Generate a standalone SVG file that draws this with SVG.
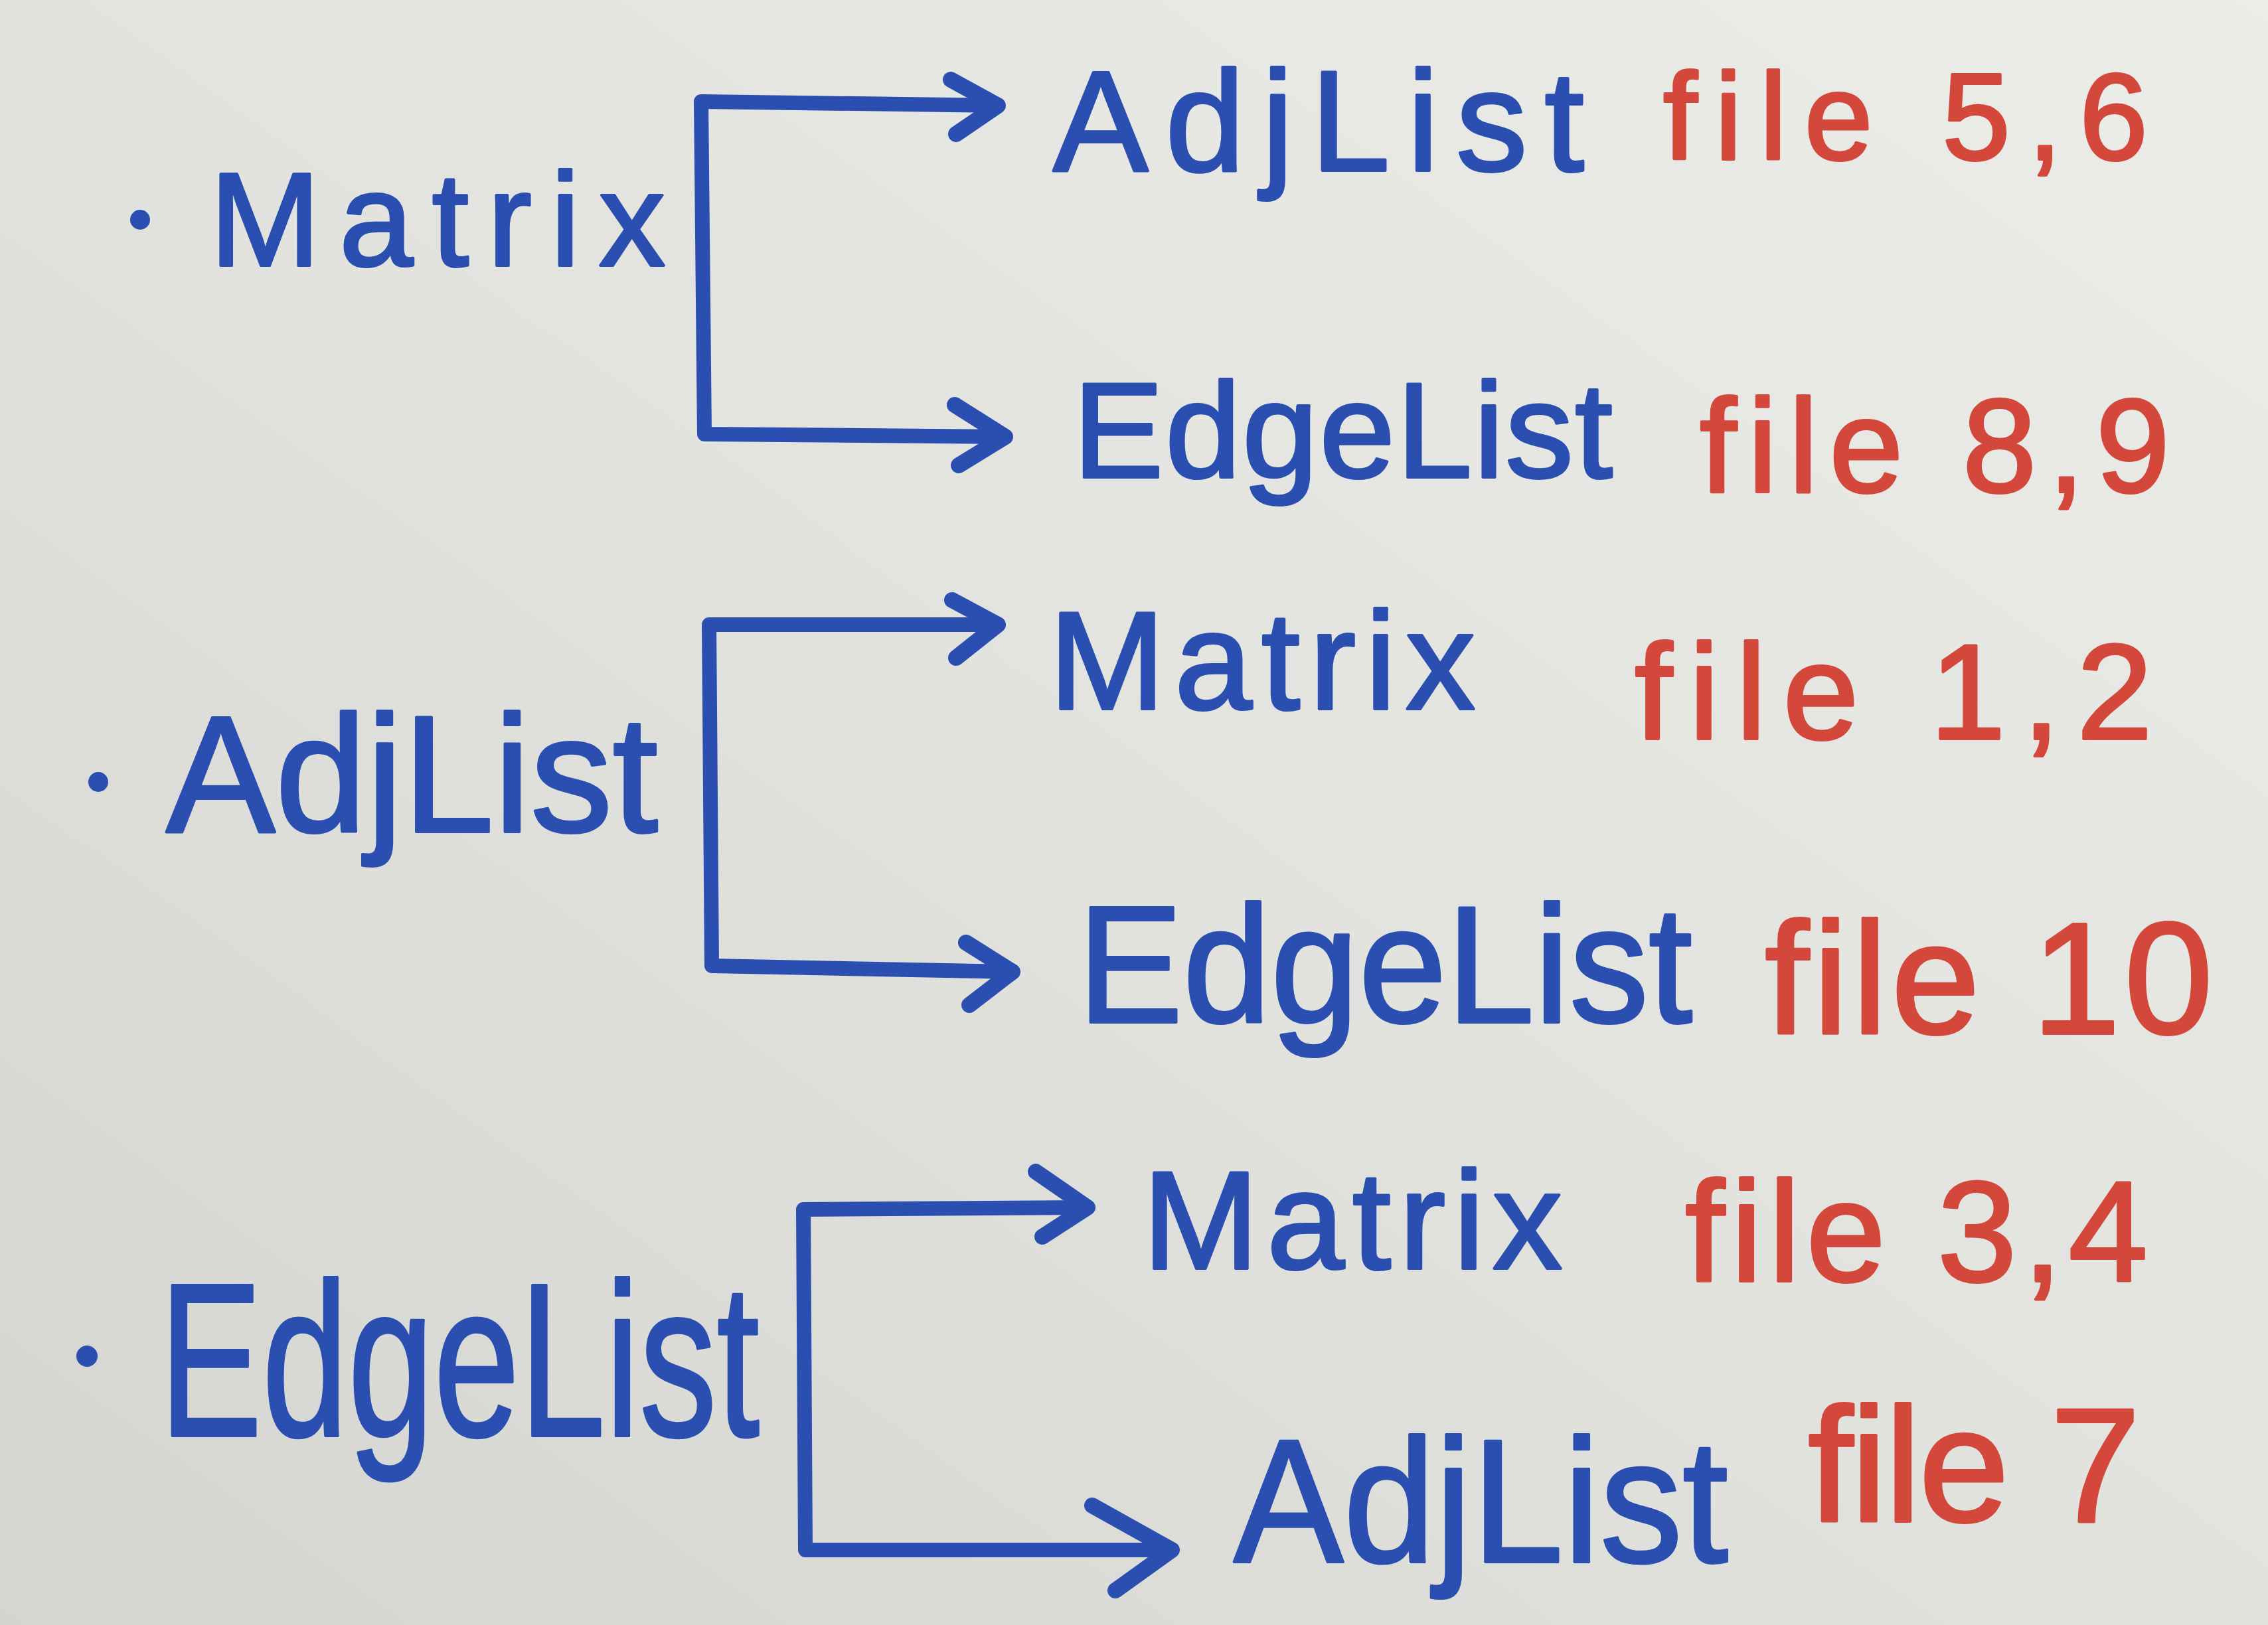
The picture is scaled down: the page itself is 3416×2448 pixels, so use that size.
<svg xmlns="http://www.w3.org/2000/svg" width="3416" height="2448" viewBox="0 0 3416 2448">
<defs>
<linearGradient id="bg" x1="1" y1="0" x2="0" y2="1">
<stop offset="0" stop-color="#ecece9"/>
<stop offset="0.5" stop-color="#e2e3df"/>
<stop offset="1" stop-color="#d4d5d0"/>
</linearGradient>
<style>
.b{fill:#2a4fb0;stroke:#2a4fb0;stroke-width:4;stroke-linejoin:round;font-family:"Liberation Sans",Arial,sans-serif}
.r{fill:#d4483b;stroke:#d4483b;stroke-width:4;stroke-linejoin:round;font-family:"Liberation Sans",Arial,sans-serif}
.ln{fill:none;stroke:#2a4fb0;stroke-width:22;stroke-linecap:round;stroke-linejoin:round}
.hd{fill:none;stroke:#2a4fb0;stroke-width:24;stroke-linecap:round;stroke-linejoin:round}
.dot{fill:#2a4fb0}
</style>
</defs>
<rect width="3416" height="2448" fill="url(#bg)"/>

<g id="connectors">
<path class="ln" d="M1503,159 L1056,153 L1061,654 L1514,658"/>
<path class="hd" d="M1432,120 L1503,159 L1440,202"/>
<path class="hd" d="M1438,610 L1514,658 L1444,701"/>
<path class="ln" d="M1503,941 L1068,941 L1072,1455 L1525,1464"/>
<path class="hd" d="M1434,904 L1503,941 L1440,991"/>
<path class="hd" d="M1455,1420 L1525,1464 L1460,1514"/>
<path class="ln" d="M1638,1819 L1210,1822 L1213,2335 L1765,2335"/>
<path class="hd" d="M1560,1765 L1638,1819 L1570,1863"/>
<path class="hd" d="M1645,2268 L1765,2335 L1680,2396"/>
</g>

<g id="node-matrix-src">
<circle class="dot" cx="211" cy="331" r="15"/>
<text class="b" x="316" y="400" font-size="200" textLength="686">Matrix</text>
</g>
<g id="node-adjlist-src">
<circle class="dot" cx="148" cy="1178" r="15"/>
<text class="b" x="250" y="1253" font-size="250" textLength="741" lengthAdjust="spacingAndGlyphs">AdjList</text>
</g>
<g id="node-edgelist-src">
<circle class="dot" cx="131" cy="2043" r="16"/>
<text class="b" x="240" y="2163" font-size="330" textLength="904" lengthAdjust="spacingAndGlyphs">EdgeList</text>
</g>

<g id="node-m-adjlist">
<text class="b" x="1586" y="257" font-size="215" textLength="800">AdjList</text>
<text class="r" x="2505" y="240" font-size="185" textLength="730">file 5,6</text>
</g>
<g id="node-m-edgelist">
<text class="b" x="1616" y="719" font-size="205" textLength="813">EdgeList</text>
<text class="r" x="2560" y="741" font-size="200" textLength="708">file 8,9</text>
</g>
<g id="node-a-matrix">
<text class="b" x="1580" y="1068" font-size="210" textLength="642">Matrix</text>
<text class="r" x="2462" y="1113" font-size="205" textLength="780">file 1,2</text>
</g>
<g id="node-a-edgelist">
<text class="b" x="1623" y="1540" font-size="250" textLength="926" lengthAdjust="spacingAndGlyphs">EdgeList</text>
<text class="r" x="2658" y="1557" font-size="240" textLength="675">file 10</text>
</g>
<g id="node-e-matrix">
<text class="b" x="1721" y="1911" font-size="210" textLength="632">Matrix</text>
<text class="r" x="2538" y="1930" font-size="215" textLength="697">file 3,4</text>
</g>
<g id="node-e-adjlist">
<text class="b" x="1858" y="2353" font-size="265" textLength="745" lengthAdjust="spacingAndGlyphs">AdjList</text>
<text class="r" x="2723" y="2292" font-size="245" textLength="501">file 7</text>
</g>
</svg>
